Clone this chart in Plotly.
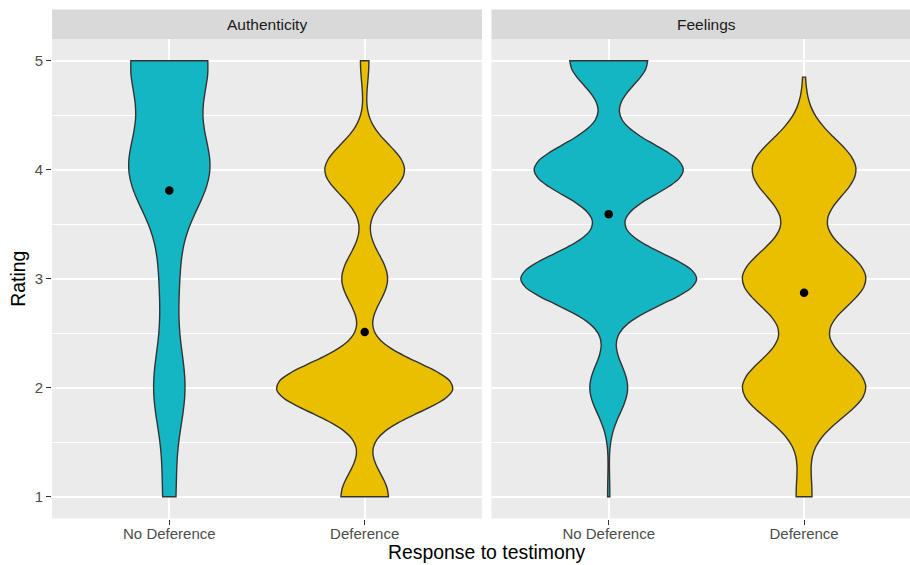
import numpy as np
import plotly.graph_objects as go

# ---------------- data ----------------
facets = ["Authenticity", "Feelings"]
conditions = ["No Deference", "Deference"]
y_ticks = [1, 2, 3, 4, 5]
y_minor = [1.5, 2.5, 3.5, 4.5]

# rating levels and number of responses at each level
auth_nodef_levels = [1, 2, 3, 4, 5]
auth_nodef_counts = [10, 25, 14, 64, 61]
auth_def_levels = [1, 2, 3, 4, 5]
auth_def_counts = [28, 104, 27, 47, 5]
feel_nodef_levels = [1, 2, 3, 4, 5]
feel_nodef_counts = [1, 17, 79, 67, 35]
feel_def_levels = [1, 2, 3, 4, 4.85]
feel_def_counts = [8, 63, 63, 53, 1]

x_title = "Response to testimony"
y_title = "Rating"

# ---------------- style ----------------
W, H = 910, 565
FONT = "Liberation Sans, Arial, Helvetica, sans-serif"
TEAL = "#14B6C4"
GOLD = "#E9BF00"
PANEL_BG = "#EBEBEB"
STRIP_BG = "#D9D9D9"

# pixel layout
p1_left, p1_right = 52.1, 481.9
p2_left = 491.5
unit = (p1_right - p1_left) / 2.2
panel_top, panel_bottom = 39.0, 518.5
strip_top = 9.5


def px_x(x):
    return x / W


def px_y(y):
    return 1 - y / H


def expand(levels, counts):
    return np.repeat(np.asarray(levels, float), counts)


def nrd0(x):
    x = np.asarray(x, float)
    sd = np.std(x, ddof=1)
    q1, q3 = np.percentile(x, [25, 75])
    lo = min(sd, (q3 - q1) / 1.34)
    if lo == 0:
        lo = sd if sd > 0 else 1.0
    return 0.9 * lo * len(x) ** (-0.2)


def kde_max(x, bw):
    grid = np.linspace(x.min(), x.max(), 512)
    d = np.exp(-0.5 * ((grid[:, None] - x[None, :]) / bw) ** 2).sum(axis=1)
    return (d / (len(x) * bw * np.sqrt(2 * np.pi))).max()


groups = [
    ("x", "y", 0, conditions[0], expand(auth_nodef_levels, auth_nodef_counts), TEAL),
    ("x", "y", 0, conditions[1], expand(auth_def_levels, auth_def_counts), GOLD),
    ("x2", "y2", 1, conditions[0], expand(feel_nodef_levels, feel_nodef_counts), TEAL),
    ("x2", "y2", 1, conditions[1], expand(feel_def_levels, feel_def_counts), GOLD),
]

# ggplot-style "area" scaling: widest density in each panel gets width 0.9
bws = [nrd0(g[4]) for g in groups]
peaks = [kde_max(g[4], bw) for g, bw in zip(groups, bws)]
panel_peak = {}
for g, pk in zip(groups, peaks):
    panel_peak[g[2]] = max(panel_peak.get(g[2], 0), pk)

fig = go.Figure()
for i, ((xa, ya, panel, cond, vals, col), bw, pk) in enumerate(zip(groups, bws, peaks)):
    fig.add_trace(go.Violin(
        x=[cond] * len(vals), y=vals, xaxis=xa, yaxis=ya,
        bandwidth=float(bw), spanmode="hard",
        scalegroup="v%d" % i, scalemode="width",
        width=float(0.9 * pk / panel_peak[panel]),
        fillcolor=col, opacity=1,
        line=dict(color="#333333", width=1.4),
        points=False, box_visible=False, meanline_visible=False,
        showlegend=False, hoverinfo="skip",
    ))
for xa, ya, panel, cond, vals, col in groups:
    fig.add_trace(go.Scatter(
        x=[cond], y=[float(np.mean(vals))], xaxis=xa, yaxis=ya,
        mode="markers", marker=dict(color="black", size=8.5),
        showlegend=False, hoverinfo="skip",
    ))

xcommon = dict(
    type="category", categoryorder="array", categoryarray=conditions,
    showgrid=True, gridcolor="white", gridwidth=2.2, zeroline=False, showline=False,
    ticks="outside", ticklen=5, tickwidth=1.3, tickcolor="#333333",
    ticklabelstandoff=-4,
    tickfont=dict(family=FONT, size=15, color="#4D4D4D"),
    fixedrange=True,
)
ycommon = dict(
    range=[0.8, 5.2], tickvals=y_ticks,
    showgrid=True, gridcolor="white", gridwidth=2.2, zeroline=False, showline=False,
    minor=dict(tickvals=y_minor, showgrid=True, gridcolor="white", gridwidth=1.1, ticklen=0),
    domain=[px_y(panel_bottom), px_y(panel_top)],
    fixedrange=True,
)

fig.update_layout(
    width=W, height=H,
    margin=dict(l=0, r=0, t=0, b=0),
    paper_bgcolor="white", plot_bgcolor=PANEL_BG,
    violinmode="overlay",
    font=dict(family=FONT),
    xaxis=dict(xcommon, domain=[px_x(p1_left), px_x(p1_right)], range=[-0.6, 1.6], anchor="y"),
    xaxis2=dict(xcommon, domain=[px_x(p2_left), 1.0],
                range=[-0.6, -0.6 + (W - p2_left) / unit], anchor="y2"),
    yaxis=dict(ycommon, anchor="x", ticks="outside", ticklen=5, tickwidth=1.3,
               tickcolor="#333333", ticklabelstandoff=0,
               tickfont=dict(family=FONT, size=15, color="#4D4D4D")),
    yaxis2=dict(ycommon, anchor="x2", showticklabels=False, ticks=""),
)

# facet strips
shapes = []
annotations = []
for (l, r, full_r), name in zip([(p1_left, p1_right, p1_right),
                                 (p2_left, W + 12, p2_left + 2.2 * unit)], facets):
    shapes.append(dict(type="rect", xref="paper", yref="paper",
                       x0=px_x(l), x1=px_x(r), y0=px_y(panel_top), y1=px_y(strip_top),
                       fillcolor=STRIP_BG, line=dict(width=0), layer="below"))
    annotations.append(dict(text=name, xref="paper", yref="paper",
                            x=px_x((l + full_r) / 2), y=px_y((strip_top + panel_top) / 2),
                            xanchor="center", yanchor="middle", showarrow=False,
                            font=dict(family=FONT, size=15.5, color="#1A1A1A")))

annotations.append(dict(text=x_title, xref="paper", yref="paper",
                        x=px_x((p1_left + p2_left + 2.2 * unit) / 2), y=px_y(552),
                        xanchor="center", yanchor="middle", showarrow=False,
                        font=dict(family=FONT, size=19.4, color="black")))
annotations.append(dict(text=y_title, xref="paper", yref="paper",
                        x=px_x(18), y=px_y((panel_top + panel_bottom) / 2),
                        xanchor="center", yanchor="middle", showarrow=False, textangle=-90,
                        font=dict(family=FONT, size=19.4, color="black")))
fig.update_layout(shapes=shapes, annotations=annotations)

fig.write_html("out.html", config={"displayModeBar": False},
               post_script="document.body.style.margin='0px';")
